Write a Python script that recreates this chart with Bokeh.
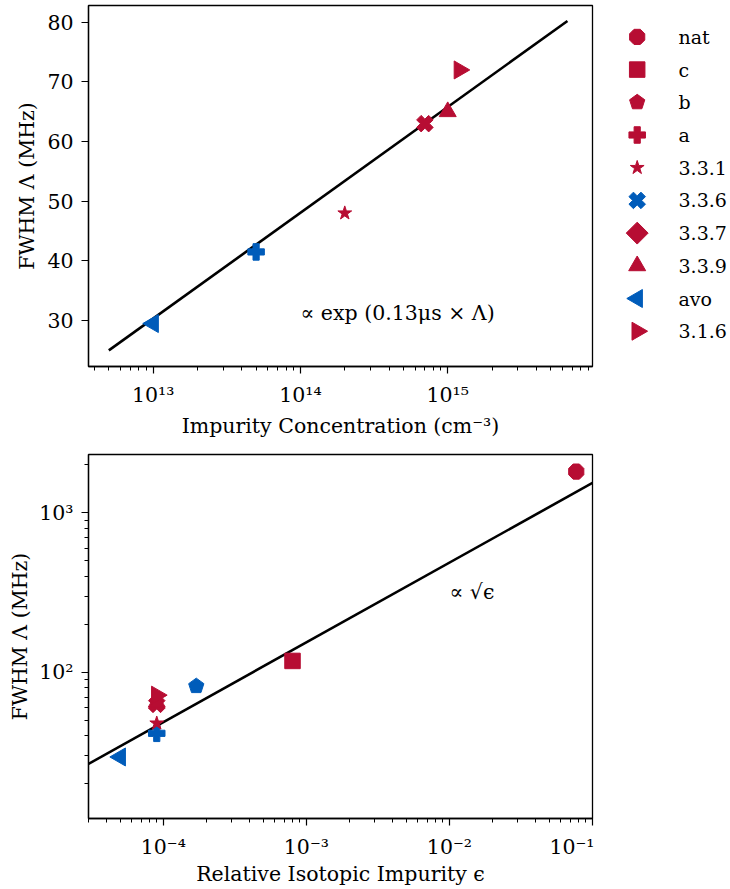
import math

from bokeh.core.properties import value
from bokeh.embed import file_html
from bokeh.layouts import column, row
from bokeh.models import CustomJSTickFormatter, FixedTicker, Range1d
from bokeh.plotting import figure
from bokeh.resources import INLINE

# ---- data -----------------------------------------------------------------
samples = ["nat", "c", "b", "a", "3.3.1", "3.3.6", "3.3.7", "3.3.9", "avo", "3.1.6"]
# impurity concentration in cm^-3 (None: not measured)
concentration = [None, None, None, 5e13, 2e14, 7e14, None, 1e15, 1e13, 1.2e15]
# relative isotopic impurity epsilon (None: not measured)
impurity = [0.077, 8e-4, 1.7e-4, 9e-5, 9e-5, 9e-5, None, 9e-5, 5e-5, 9e-5]
# line width (MHz)
fwhm = [1815, 118, 82, 41.5, 48, 63, None, 65, 29.5, 72]

RED = "#B70D33"
BLUE = "#005CBA"
conc_colors = [RED, RED, RED, BLUE, RED, RED, RED, RED, BLUE, RED]
eps_colors = [RED, RED, BLUE, BLUE, RED, RED, RED, RED, BLUE, RED]
legend_colors = [RED, RED, RED, RED, RED, BLUE, RED, RED, BLUE, RED]
markers = ["octagon", "square", "pentagon", "plus", "star", "x",
           "diamond", "triangle", "left", "right"]

# fitted trends
exp_fit_conc = [5e12, 6.5e15]
exp_fit_fwhm = [25.0, 80.2]
sqrt_fit_eps = [3e-5, 0.1]
sqrt_fit_fwhm = [26.7, 1542.0]

conc_ticks = [1e13, 1e14, 1e15]
conc_minor = [m * 10.0 ** d for d in (12, 13, 14, 15) for m in range(2, 10)]
fwhm_ticks = [30, 40, 50, 60, 70, 80]
eps_ticks = [1e-4, 1e-3, 1e-2, 1e-1]
eps_minor = [m * 10.0 ** d for d in (-5, -4, -3, -2) for m in range(2, 10)]
fwhm_log_ticks = [1e2, 1e3]
fwhm_log_minor = [m * 10.0 ** d for d in (1, 2, 3) for m in range(2, 10)]

FONT = "DejaVu Serif"
FS = "20.5px"
LEGEND_FS = "19px"

sup_formatter = CustomJSTickFormatter(code="""
const sup = {'-': '⁻', '0': '⁰', '1': '¹', '2': '²', '3': '³', '4': '⁴',
             '5': '⁵', '6': '⁶', '7': '⁷', '8': '⁸', '9': '⁹'};
const e = Math.round(Math.log10(tick));
return '10' + String(e).split('').map(c => sup[c]).join('');
""")


def draw_marker(fig, kind, xs, ys, color):
    """Draw one sample's points with a matplotlib-like marker shape."""
    common = dict(fill_color=color, line_color=color, line_width=1)
    if kind in ("octagon", "pentagon"):
        n = 8 if kind == "octagon" else 5
        if hasattr(fig, "ngon"):
            fig.ngon(x=xs, y=ys, radius=8.2 if n == 8 else 8.0, radius_units="screen", n=n,
                     angle=math.pi / 8 if n == 8 else 0.0, **common)
        else:
            fig.scatter(xs, ys, marker="circle" if n == 8 else "hex", size=16, **common)
    elif kind == "square":
        fig.scatter(xs, ys, marker="square", size=15.5, **common)
    elif kind == "diamond":
        fig.scatter(xs, ys, marker="square", size=15.5, angle=math.pi / 4, **common)
    elif kind == "plus":
        fig.scatter(xs, ys, marker="plus", size=16.5, **common)
    elif kind == "x":
        fig.scatter(xs, ys, marker="plus", size=17, angle=math.pi / 4, **common)
    elif kind == "star":
        fig.scatter(xs, ys, marker="star", size=14.5, **common)
    elif kind == "triangle":
        fig.scatter(xs, ys, marker="triangle", size=17, **common)
    elif kind == "left":
        fig.scatter(xs, ys, marker="triangle", size=18, angle=math.pi / 2, **common)
    elif kind == "right":
        fig.scatter(xs, ys, marker="triangle", size=18, angle=-math.pi / 2, **common)


def style(p, label_standoff, xlabel_standoff):
    p.grid.visible = False
    p.outline_line_color = "black"
    p.outline_line_width = 1.3
    p.background_fill_color = "white"
    p.border_fill_color = "white"
    for ax in p.axis:
        ax.axis_line_color = "black"
        ax.axis_line_width = 1.3
        ax.major_tick_in = 0
        ax.major_tick_out = 7
        ax.minor_tick_in = 0
        ax.minor_tick_out = 4
        ax.major_tick_line_width = 1.2
        ax.minor_tick_line_width = 1.0
        ax.major_tick_line_color = "black"
        ax.minor_tick_line_color = "black"
        ax.major_label_text_font = FONT
        ax.major_label_text_font_size = FS
        ax.major_label_text_color = "black"
        ax.axis_label_text_font = FONT
        ax.axis_label_text_font_size = FS
        ax.axis_label_text_font_style = "normal"
        ax.axis_label_text_color = "black"
    p.xaxis.major_label_standoff = 9
    p.yaxis.major_label_standoff = 8
    p.yaxis.axis_label_standoff = label_standoff
    p.xaxis.axis_label_standoff = xlabel_standoff


# ---- upper panel: width vs. impurity concentration -------------------------
top = figure(width=594, height=440, x_axis_type="log",
             x_range=Range1d(10 ** 12.561, 10 ** 15.983), y_range=Range1d(22.3, 82.8),
             toolbar_location=None, output_backend="svg",
             min_border_left=88, min_border_right=2, min_border_top=5, min_border_bottom=72)
top.xaxis.ticker = FixedTicker(ticks=conc_ticks, minor_ticks=conc_minor)
top.xaxis.formatter = sup_formatter
top.yaxis.ticker = FixedTicker(ticks=fwhm_ticks, minor_ticks=[])
top.xaxis.axis_label = "Impurity Concentration (cm⁻³)"
top.yaxis.axis_label = "FWHM Λ (MHz)"
style(top, 5, 4)

top.line(exp_fit_conc, exp_fit_fwhm, line_color="black", line_width=2.6)
for i, name in enumerate(samples):
    if concentration[i] is None:
        continue
    draw_marker(top, markers[i], [concentration[i]], [fwhm[i]], conc_colors[i])
top.text(x=[1e14], y=[31.2], text=["∝ exp (0.13μs × Λ)"], text_baseline="middle",
         text_align="left", text_font=value(FONT), text_font_size=FS, text_color="black")

# ---- legend column ---------------------------------------------------------
# x in page pixels, y in legend rows (0 = first entry)
leg = figure(frame_width=136, frame_height=440, x_range=Range1d(594, 730),
             y_range=Range1d(12.495, -0.96), toolbar_location=None, output_backend="svg",
             x_axis_location=None, y_axis_location=None,
             min_border_left=0, min_border_right=0, min_border_top=0, min_border_bottom=0,
             outline_line_color=None)
leg.grid.visible = False
for i, name in enumerate(samples):
    draw_marker(leg, markers[i], [636.7], [i], legend_colors[i])
leg.text(x=[678] * len(samples), y=list(range(len(samples))), text=samples,
         text_baseline="middle", text_align="left", text_font=value(FONT),
         text_font_size=LEGEND_FS, text_color="black")

# ---- lower panel: width vs. relative isotopic impurity ---------------------
bottom = figure(width=594, height=449, x_axis_type="log", y_axis_type="log",
                x_range=Range1d(3e-5, 0.1), y_range=Range1d(10 ** 1.084, 10 ** 3.366),
                toolbar_location=None, output_backend="svg",
                min_border_left=88, min_border_right=2, min_border_top=14, min_border_bottom=71)
bottom.xaxis.ticker = FixedTicker(ticks=eps_ticks, minor_ticks=eps_minor)
bottom.xaxis.formatter = sup_formatter
bottom.yaxis.ticker = FixedTicker(ticks=fwhm_log_ticks, minor_ticks=fwhm_log_minor)
bottom.yaxis.formatter = sup_formatter
bottom.xaxis.axis_label = "Relative Isotopic Impurity ϵ"
bottom.yaxis.axis_label = "FWHM Λ (MHz)"
style(bottom, 4, 0)

bottom.line(sqrt_fit_eps, sqrt_fit_fwhm, line_color="black", line_width=2.6)
for i, name in enumerate(samples):
    if impurity[i] is None:
        continue
    draw_marker(bottom, markers[i], [impurity[i]], [fwhm[i]], eps_colors[i])
bottom.text(x=[1e-2], y=[320], text=["∝ √ϵ"], text_baseline="middle",
            text_align="left", text_font=value(FONT), text_font_size=FS, text_color="black")

layout = column(row(top, leg), bottom)

with open("out.html", "w") as f:
    f.write(file_html(layout, INLINE))
